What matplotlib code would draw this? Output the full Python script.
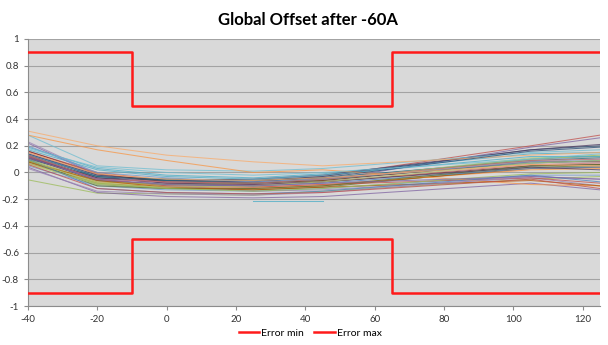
import numpy as np
import matplotlib
matplotlib.use("Agg")
import matplotlib.pyplot as plt
from matplotlib.ticker import FuncFormatter, MultipleLocator

plt.rcParams['font.family'] = ['Lato', 'DejaVu Sans']
plt.rcParams['axes.unicode_minus'] = False

# measurement positions (A)
x_pos = [-40, -20, 0, 25, 45, 105, 125]

# offset curves, one per unit
offsets = [
    [0.14, -0.03, -0.07, -0.08, -0.05, 0.10, 0.12],
    [0.16, 0.00, -0.06, -0.07, -0.03, 0.20, 0.28],
    [-0.055, -0.155, -0.16, -0.17, -0.14, -0.05, -0.03],
    [0.22, -0.02, -0.08, -0.10, -0.06, 0.19, 0.26],
    [0.19, 0.03, -0.02, -0.04, -0.01, 0.14, 0.15],
    [0.09, -0.07, -0.10, -0.11, -0.09, 0.02, 0.03],
    [0.13, -0.05, -0.05, -0.06, -0.03, 0.17, 0.20],
    [0.11, -0.06, -0.09, -0.10, -0.07, 0.05, 0.06],
    [0.08, -0.09, -0.12, -0.13, -0.11, 0.04, 0.05],
    [0.12, -0.04, -0.06, -0.05, -0.02, 0.17, 0.21],
    [0.10, -0.03, -0.05, -0.06, -0.04, 0.09, 0.11],
    [0.07, -0.08, -0.11, -0.12, -0.10, 0.03, 0.04],
    [0.05, -0.10, -0.13, -0.14, -0.12, -0.02, -0.02],
    [0.15, -0.02, -0.08, -0.09, -0.07, 0.06, 0.07],
    [0.06, -0.08, -0.10, -0.11, -0.06, 0.11, 0.12],
    [0.23, -0.01, -0.10, -0.14, -0.13, -0.04, -0.10],
    [0.28, 0.05, 0.02, 0.01, 0.03, 0.15, 0.17],
    [0.31, 0.20, 0.13, 0.08, 0.05, 0.13, 0.15],
    [0.12, -0.06, -0.09, -0.10, -0.08, 0.03, 0.04],
    [0.12, -0.05, -0.10, -0.11, -0.09, -0.04, -0.08],
    [0.10, -0.07, -0.09, -0.08, -0.06, 0.10, 0.13],
    [0.04, -0.15, -0.18, -0.19, -0.18, -0.08, -0.13],
    [0.17, 0.02, -0.03, -0.05, -0.02, 0.12, 0.12],
    [0.28, 0.17, 0.09, 0.00, 0.02, -0.09, -0.10],
    [0.14, -0.02, -0.06, -0.07, -0.04, 0.16, 0.19],
    [0.16, -0.01, -0.07, -0.08, -0.06, 0.08, 0.08],
    [0.09, -0.10, -0.12, -0.12, -0.10, 0.05, 0.06],
    [0.11, -0.04, -0.08, -0.09, -0.07, 0.04, 0.02],
    [0.13, -0.03, -0.06, -0.08, -0.05, 0.07, 0.09],
    [0.08, -0.06, -0.11, -0.13, -0.11, -0.06, -0.10],
    [0.20, 0.00, -0.04, -0.07, -0.05, 0.08, 0.10],
    [0.13, -0.05, -0.07, -0.08, -0.05, 0.09, 0.10],
    [0.07, -0.09, -0.11, -0.10, -0.07, 0.07, 0.09],
    [0.03, -0.14, -0.16, -0.17, -0.15, -0.03, -0.05],
    [0.18, 0.04, 0.00, -0.02, 0.00, 0.10, 0.14],
    [0.15, -0.01, -0.05, -0.06, -0.04, 0.06, 0.05],
    [0.10, -0.12, -0.15, -0.16, -0.14, -0.02, -0.07],
    [0.06, -0.12, -0.15, -0.16, -0.15, -0.05, -0.12],
    [0.09, -0.08, -0.12, -0.14, -0.12, -0.01, 0.00],
    [0.11, -0.05, -0.09, -0.10, -0.08, -0.03, -0.05],
    [np.nan, np.nan, np.nan, -0.21, -0.21, np.nan, np.nan],
]

series_colors = ["#4F81BD", "#C0504D", "#9BBB59", "#8064A2", "#4BACC6", "#F79646",
                 "#2C4D75", "#772C2A", "#5F7530", "#4D3B62", "#276A7C", "#B65708",
                 "#729ACA", "#CD7371", "#AFC97A", "#9983B5", "#6FBDD1", "#F9AB6B"]

# tolerance band
err_x = [-40, -10, 65, 125]
err_min = [-0.9, -0.5, -0.9, -0.9]
err_max = [0.9, 0.5, 0.9, 0.9]

fig = plt.figure(figsize=(6.08, 3.45), dpi=100)
ax = fig.add_axes([0.046, 0.113, 0.941, 0.774])
ax.set_facecolor("#D9D9D9")

for k, vals in enumerate(offsets):
    ax.plot(x_pos, vals, color=series_colors[k % len(series_colors)], lw=0.75, alpha=0.75, zorder=2)

ax.plot(err_x, err_min, drawstyle="steps-post", color="#FF1A1A", lw=1.8, label="Error min", zorder=3)
ax.plot(err_x, err_max, drawstyle="steps-post", color="#FF1A1A", lw=1.8, label="Error max", zorder=3)

ax.set_xlim(-40, 125)
ax.set_ylim(-1, 1)
ax.xaxis.set_major_locator(MultipleLocator(20))
ax.yaxis.set_major_locator(MultipleLocator(0.2))
ax.yaxis.set_major_formatter(FuncFormatter(lambda v, _: f"{v:.1f}".rstrip("0").rstrip(".") if abs(v) > 1e-9 else "0"))
ax.grid(axis="y", color="#A3A3A3", lw=0.8)
ax.set_axisbelow(True)
for s in ["top", "right"]:
    ax.spines[s].set_visible(False)
for s in ["left", "bottom"]:
    ax.spines[s].set_color("#8C8C8C")
    ax.spines[s].set_linewidth(0.8)
ax.tick_params(axis="both", labelsize=7, colors="#8C8C8C", labelcolor="#333333", length=3, width=0.8)

fig.text(0.507, 0.942, "Global Offset after -60A", ha="center", va="center", fontsize=12, fontweight="bold")
fig.legend(loc="center", bbox_to_anchor=(0.51, 0.035), ncol=2, frameon=False, fontsize=7.5,
           handlelength=2.0, columnspacing=1.0, handletextpad=0.15)

fig.savefig("out.png", dpi=100)
